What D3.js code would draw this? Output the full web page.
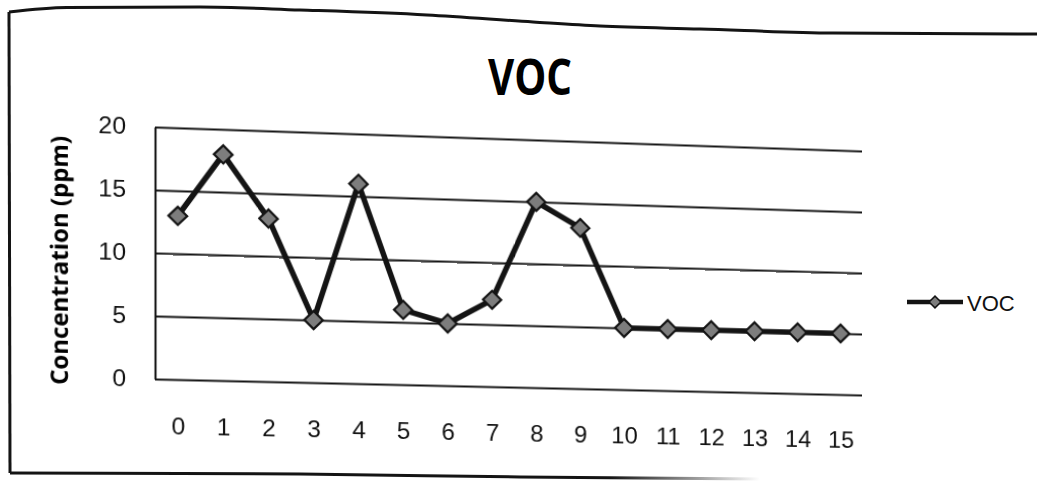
<!DOCTYPE html>
<html>
<head>
<meta charset="utf-8">
<script src="https://cdn.jsdelivr.net/npm/d3@7"></script>
<style>
  html, body { margin: 0; padding: 0; background: #fff; }
  #stage { position: relative; width: 1037px; height: 481px; overflow: hidden; background: #fff; }
  #page, #plotWrap { position: absolute; left: 0; top: 0; }
  #plotWrap { transform-origin: 0 0; }
  svg { display: block; }
</style>
</head>
<body>
<div id="stage">
  <svg id="page" width="1037" height="481"></svg>
  <div id="plotWrap"><svg id="plot" width="1037" height="481"></svg></div>
</div>
<script>
// ---- data ----
const categories = ["0", "1", "2", "3", "4", "5", "6", "7", "8", "9", "10", "11", "12", "13", "14", "15"];
const vocValues  = [13, 18, 13, 5, 16, 6, 5, 7, 15, 13, 5, 5, 5, 5, 5, 5];
const yTickValues = [0, 5, 10, 15, 20];
const seriesName = "VOC";
const chartTitle = "VOC";
const yAxisTitle = "Concentration (ppm)";

// ---- layout ----
const plot = { left: 155, top: 127, right: 862, bottom: 379 };
const ink = "#141414";

const x = d3.scalePoint().domain(categories).range([plot.left, plot.right]).padding(0.5);
const y = d3.scaleLinear().domain([0, 20]).range([plot.bottom, plot.top]);

// ---- printed page: frame, title, legend ----
const page = d3.select("#page");

const topEdge = [[9, 12], [67, 7.5], [200, 7], [300, 10], [427, 15], [533, 22], [600, 26], [700, 29], [833, 33], [1037, 34]];
const frameLine = d3.line().curve(d3.curveMonotoneX);
page.append("path")
  .attr("d", frameLine(topEdge))
  .attr("fill", "none").attr("stroke", ink).attr("stroke-width", 3);
page.append("line")
  .attr("x1", 9).attr("y1", 12).attr("x2", 10).attr("y2", 473)
  .attr("stroke", ink).attr("stroke-width", 3);

const fade = page.append("defs").append("linearGradient")
  .attr("id", "bottomFade").attr("gradientUnits", "userSpaceOnUse")
  .attr("x1", 10).attr("y1", 0).attr("x2", 760).attr("y2", 0);
fade.append("stop").attr("offset", 0.8).attr("stop-color", ink).attr("stop-opacity", 1);
fade.append("stop").attr("offset", 1).attr("stop-color", ink).attr("stop-opacity", 0);
page.append("path")
  .attr("d", frameLine([[10, 473], [300, 474], [520, 477], [760, 479]]))
  .attr("fill", "none").attr("stroke", "url(#bottomFade)").attr("stroke-width", 3);

page.append("text")
  .attr("x", 530).attr("y", 95)
  .attr("text-anchor", "middle")
  .attr("font-family", "'Open Sans', sans-serif")
  .attr("font-weight", 700)
  .attr("font-size", 50)
  .attr("textLength", 84).attr("lengthAdjust", "spacingAndGlyphs")
  .attr("fill", "#000")
  .text(chartTitle);

// legend
const lg = page.append("g").attr("transform", "translate(907,302)");
lg.append("line").attr("x1", 0).attr("x2", 56).attr("y1", 0).attr("y2", 0)
  .attr("stroke", ink).attr("stroke-width", 4.5);
lg.append("path")
  .attr("d", d3.symbol().type(d3.symbolSquare).size(70)())
  .attr("transform", "translate(28,0) rotate(45)")
  .attr("fill", "#7d7d7d").attr("stroke", ink).attr("stroke-width", 1.5);
lg.append("text")
  .attr("x", 60).attr("y", 9)
  .attr("font-family", "'Liberation Sans', Arial, sans-serif")
  .attr("font-size", 22).attr("fill", "#111")
  .text(seriesName);

// ---- plot layer (drawn flat, then tilted with the page) ----
const svg = d3.select("#plot");

// y axis title
svg.append("text")
  .attr("transform", `translate(71,${(plot.top + plot.bottom) / 2 + 10}) rotate(-90)`)
  .attr("text-anchor", "middle")
  .attr("font-family", "'Open Sans', sans-serif")
  .attr("font-weight", 700)
  .attr("font-size", 23)
  .attr("textLength", 248).attr("lengthAdjust", "spacingAndGlyphs")
  .attr("fill", "#000")
  .text(yAxisTitle);

// gridlines + y tick labels
const yAxis = svg.append("g")
  .attr("transform", `translate(${plot.left},0)`)
  .call(d3.axisLeft(y).tickValues(yTickValues)
    .tickSize(-(plot.right - plot.left)).tickPadding(28).tickSizeOuter(0));
yAxis.select(".domain").attr("stroke", ink).attr("stroke-width", 2);
yAxis.selectAll(".tick line").attr("stroke", ink).attr("stroke-width", 2);
yAxis.selectAll(".tick text")
  .attr("font-family", "'Liberation Sans', Arial, sans-serif")
  .attr("font-size", 24).attr("fill", "#111");

// category labels
const xAxis = svg.append("g")
  .attr("transform", `translate(0,${plot.bottom})`)
  .call(d3.axisBottom(x).tickSize(0).tickPadding(38));
xAxis.select(".domain").remove();
xAxis.selectAll(".tick text")
  .attr("font-family", "'Liberation Sans', Arial, sans-serif")
  .attr("font-size", 24).attr("fill", "#111");

// series line
const pts = categories.map((c, i) => ({ c, v: vocValues[i] }));
svg.append("path")
  .datum(pts)
  .attr("fill", "none")
  .attr("stroke", ink)
  .attr("stroke-width", 5.5)
  .attr("stroke-linejoin", "round")
  .attr("d", d3.line().x(d => x(d.c)).y(d => y(d.v)));

// diamond markers
svg.append("g").selectAll("path")
  .data(pts)
  .join("path")
  .attr("d", d3.symbol().type(d3.symbolSquare).size(165)())
  .attr("transform", d => `translate(${x(d.c)},${y(d.v)}) rotate(45)`)
  .attr("fill", "#7d7d7d")
  .attr("stroke", ink)
  .attr("stroke-width", 2.2);

// ---- slight perspective of the photographed page ----
function solveHomography(src, dst) {
  const A = [], b = [];
  for (let i = 0; i < 4; i++) {
    const [sx, sy] = src[i], [u, v] = dst[i];
    A.push([sx, sy, 1, 0, 0, 0, -u * sx, -u * sy]); b.push(u);
    A.push([0, 0, 0, sx, sy, 1, -v * sx, -v * sy]); b.push(v);
  }
  const n = 8;
  for (let c = 0; c < n; c++) {
    let p = c;
    for (let r = c + 1; r < n; r++) if (Math.abs(A[r][c]) > Math.abs(A[p][c])) p = r;
    [A[c], A[p]] = [A[p], A[c]]; [b[c], b[p]] = [b[p], b[c]];
    for (let r = 0; r < n; r++) {
      if (r === c) continue;
      const f = A[r][c] / A[c][c];
      for (let k = c; k < n; k++) A[r][k] -= f * A[c][k];
      b[r] -= f * b[c];
    }
  }
  return b.map((val, i) => val / A[i][i]);
}

const flatCorners = [[plot.left, plot.top], [plot.right, plot.top], [plot.left, plot.bottom], [plot.right, plot.bottom]];
const tiltCorners = [[155, 127], [862, 151], [155, 379], [862, 395]];
const [a, bb, c, d, e, f, g, h] = solveHomography(flatCorners, tiltCorners);
d3.select("#plotWrap").style("transform",
  `matrix3d(${a},${d},0,${g},${bb},${e},0,${h},0,0,1,0,${c},${f},0,1)`);
</script>
</body>
</html>
